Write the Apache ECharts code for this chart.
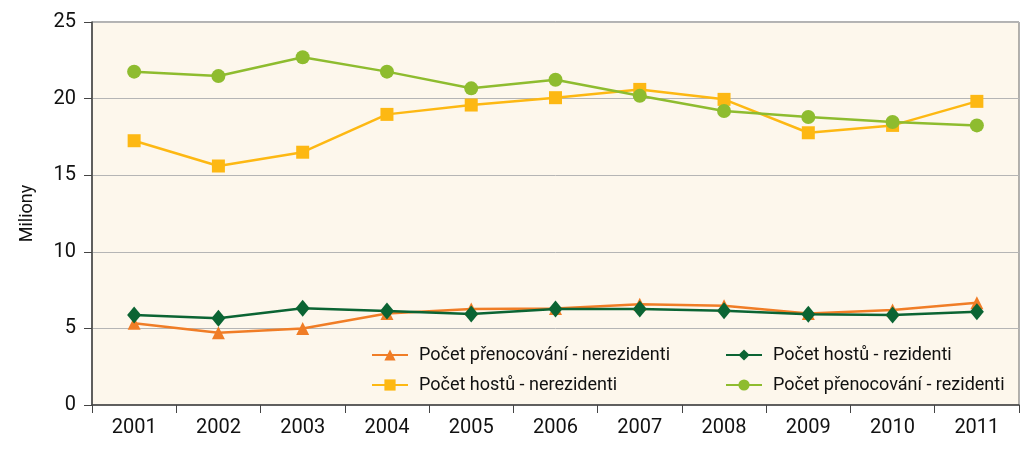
<!DOCTYPE html>
<html>
<head>
<meta charset="utf-8">
<script src="https://cdn.jsdelivr.net/npm/echarts@6/dist/echarts.min.js"></script>
<style>
    html, body { margin: 0; padding: 0; background: #fff; }
    #chart { width: 1024px; height: 449px; }
</style>
</head>
<body>
<div id="chart"></div>
<script>
// roky na ose x
const years = ['2001', '2002', '2003', '2004', '2005', '2006', '2007', '2008', '2009', '2010', '2011'];

// hodnoty v milionech
const prenocovaniNerezidenti = [5.33, 4.72, 5.0, 5.97, 6.27, 6.3, 6.57, 6.48, 5.98, 6.2, 6.68];
const hosteNerezidenti = [17.25, 15.6, 16.5, 18.97, 19.58, 20.06, 20.6, 19.95, 17.77, 18.25, 19.82];
const hosteRezidenti = [5.87, 5.66, 6.31, 6.14, 5.94, 6.27, 6.27, 6.16, 5.92, 5.87, 6.09];
const prenocovaniRezidenti = [21.76, 21.47, 22.7, 21.76, 20.67, 21.23, 20.18, 19.19, 18.8, 18.47, 18.25];

const font = 'Roboto, sans-serif';

const chart = echarts.init(document.getElementById('chart'));

function line(name, data, color, symbol, size) {
    return {
        name: name,
        type: 'line',
        data: data,
        symbol: symbol,
        symbolSize: size,
        lineStyle: { color: color, width: 2.5 },
        itemStyle: { color: color },
        emphasis: { disabled: true },
        animation: false
    };
}

const legendText = { fontSize: 18, color: '#111', fontFamily: font, padding: [0, 0, 0, 6] };

const option = {
    textStyle: { fontFamily: font },
    grid: {
        left: 92,
        right: 5,
        top: 22,
        bottom: 44,
        show: true,
        backgroundColor: '#fdf7ec',
        borderColor: '#666',
        borderWidth: 1
    },
    legend: [
        {
            data: ['Počet přenocování - nerezidenti', 'Počet hostů - nerezidenti'],
            orient: 'vertical',
            left: 366,
            top: 341,
            itemWidth: 36,
            itemHeight: 14,
            itemGap: 12,
            textStyle: legendText
        },
        {
            data: ['Počet hostů - rezidenti', 'Počet přenocování - rezidenti'],
            orient: 'vertical',
            left: 720,
            top: 341,
            itemWidth: 36,
            itemHeight: 14,
            itemGap: 12,
            textStyle: legendText
        }
    ],
    xAxis: {
        type: 'category',
        data: years,
        boundaryGap: true,
        axisLine: { lineStyle: { color: '#444', width: 1.5 } },
        axisTick: { show: true, length: 8, lineStyle: { color: '#444' } },
        axisLabel: { fontSize: 20, color: '#111', margin: 13, fontFamily: font }
    },
    yAxis: {
        type: 'value',
        min: 0,
        max: 25,
        interval: 5,
        name: 'Miliony',
        nameLocation: 'middle',
        nameGap: 56,
        nameRotate: 90,
        nameTextStyle: { fontSize: 18, color: '#111', fontFamily: font },
        axisLine: { show: true, lineStyle: { color: '#444', width: 1.5 } },
        axisTick: { show: true, length: 8, lineStyle: { color: '#444' } },
        axisLabel: { fontSize: 20, color: '#111', margin: 16, fontFamily: font },
        splitLine: { lineStyle: { color: '#b5b5b5', width: 1 } }
    },
    series: [
        line('Počet přenocování - nerezidenti', prenocovaniNerezidenti, '#f07d26', 'triangle', 13),
        line('Počet hostů - nerezidenti', hosteNerezidenti, '#fdb813', 'rect', 13),
        line('Počet hostů - rezidenti', hosteRezidenti, '#0b6433', 'diamond', [14, 17]),
        line('Počet přenocování - rezidenti', prenocovaniRezidenti, '#8ebc2f', 'circle', 14)
    ]
};

chart.setOption(option);
</script>
</body>
</html>
